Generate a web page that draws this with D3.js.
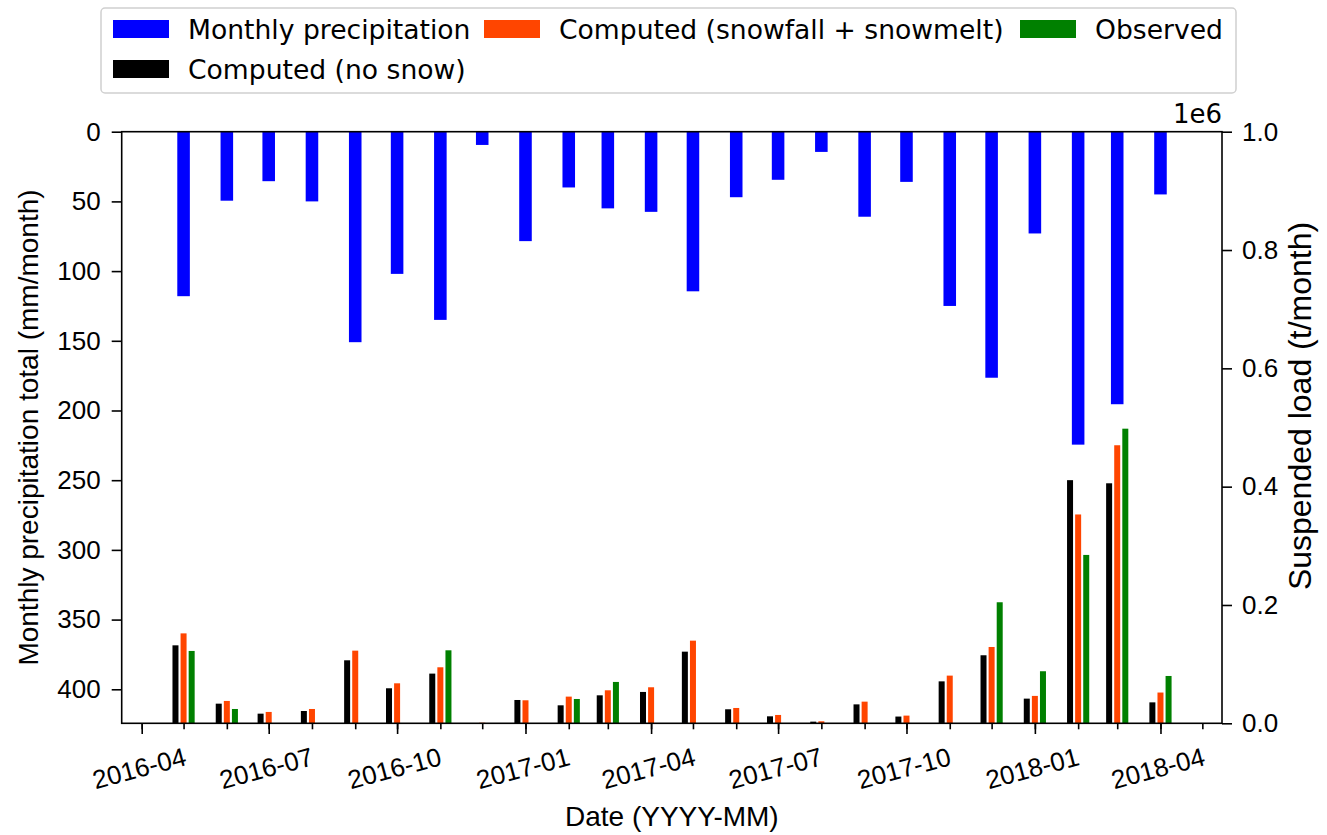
<!DOCTYPE html>
<html>
<head>
<meta charset="utf-8">
<script src="https://cdn.jsdelivr.net/npm/d3@7"></script>
<style>
  body { margin: 0; background: #fff; }
  svg { display: block; }
</style>
</head>
<body>
<svg id="chart" width="1327" height="835"></svg>
<script>
// Monthly records (first day of each month)
const months = ["2016-05","2016-06","2016-07","2016-08","2016-09","2016-10","2016-11","2016-12",
                "2017-01","2017-02","2017-03","2017-04","2017-05","2017-06","2017-07","2017-08",
                "2017-09","2017-10","2017-11","2017-12","2018-01","2018-02","2018-03","2018-04"];

// Monthly precipitation total (mm/month)
const precipitation = [118, 49.5, 35.5, 50, 151, 102, 135, 9.5,
                       78.5, 40, 55, 57.5, 114.5, 47, 34.5, 14.5,
                       61, 36, 125, 176.5, 73, 224.5, 195.5, 45];

// Suspended load (t/month)
const loadNoSnow = [131800, 33200, 16300, 20800, 106500, 59200, 84000, 0,
                    39400, 30400, 47300, 53000, 121100, 23700, 11800, 2800,
                    32000, 11400, 70900, 115000, 41700, 411000, 405700, 35400];
const loadSnow = [152000, 37800, 19200, 24200, 122800, 67600, 94700, 1000,
                  38900, 45100, 55800, 60900, 139700, 25900, 14100, 3400,
                  36600, 13000, 80600, 129000, 46300, 353000, 470000, 52000];
const loadObserved = [122300, 24200, null, null, null, null, 123400, null,
                      null, 41100, 69900, null, null, null, null, null,
                      null, null, null, 204600, 88000, 284600, 498000, 80000];

const precipTicks = [0, 50, 100, 150, 200, 250, 300, 350, 400];
const loadTicks = [0, 200000, 400000, 600000, 800000, 1000000];

const legendEntries = [
  { label: "Monthly precipitation", color: "#0000ff" },
  { label: "Computed (snowfall + snowmelt)", color: "#ff4500" },
  { label: "Observed", color: "#008000" },
  { label: "Computed (no snow)", color: "#000000" }
];

// ---- layout ----
const svg = d3.select("#chart");
const plot = { left: 121.7, right: 1222, top: 131.7, bottom: 723.3 };
const DAY = 864e5;
const tickFont = "'Liberation Sans', Arial, sans-serif";
const legendFont = "'DejaVu Sans', sans-serif";

const dates = months.map(d3.utcParse("%Y-%m"));

const x = d3.scaleUtc()
  .domain([new Date(Date.UTC(2016, 2, 17, 16)), new Date(Date.UTC(2018, 4, 15, 2))])
  .range([plot.left, plot.right]);
const yPrecip = d3.scaleLinear().domain([0, 424.4]).range([plot.top, plot.bottom]);
const yLoad = d3.scaleLinear().domain([0, 1e6]).range([plot.bottom, plot.top]);

const shift = (d, days) => new Date(d.getTime() + days * DAY);

// ---- precipitation bars hanging from the top ----
const precipHalf = 4.5;
svg.append("g").selectAll("rect")
  .data(dates.map((d, i) => ({ d, v: precipitation[i] })))
  .join("rect")
  .attr("x", p => x(shift(p.d, -precipHalf)))
  .attr("width", p => x(shift(p.d, precipHalf)) - x(shift(p.d, -precipHalf)))
  .attr("y", yPrecip(0))
  .attr("height", p => yPrecip(p.v) - yPrecip(0))
  .attr("fill", "#0000ff");

// ---- suspended load bars, grouped around each month ----
const loadSeries = [
  { values: loadNoSnow, color: "#000000", offset: -5.8 },
  { values: loadSnow, color: "#ff4500", offset: 0 },
  { values: loadObserved, color: "#008000", offset: 5.8 }
];
const loadHalf = 2.15;
loadSeries.forEach(s => {
  svg.append("g").selectAll("rect")
    .data(dates.map((d, i) => ({ d, v: s.values[i] })).filter(p => p.v !== null))
    .join("rect")
    .attr("x", p => x(shift(p.d, s.offset - loadHalf)))
    .attr("width", p => x(shift(p.d, s.offset + loadHalf)) - x(shift(p.d, s.offset - loadHalf)))
    .attr("y", p => yLoad(p.v))
    .attr("height", p => yLoad(0) - yLoad(p.v))
    .attr("fill", s.color);
});

// ---- axes ----
function styleAxis(g) {
  g.select(".domain").remove();
  g.selectAll(".tick line").attr("stroke", "#000").attr("stroke-width", 1.6);
  g.selectAll(".tick text").attr("fill", "#000").style("font-family", tickFont).style("font-size", "26px");
}

// minor month ticks
svg.append("g")
  .attr("transform", `translate(0,${plot.bottom})`)
  .call(d3.axisBottom(x).ticks(d3.utcMonth.every(1)).tickSize(6).tickFormat(""))
  .call(styleAxis);

// major quarterly ticks with labels
const xMajor = svg.append("g")
  .attr("transform", `translate(0,${plot.bottom})`)
  .call(d3.axisBottom(x).ticks(d3.utcMonth.every(3)).tickSize(10.7).tickFormat(d3.utcFormat("%Y-%m")))
  .call(styleAxis);
xMajor.selectAll(".tick text")
  .attr("y", 0).attr("dy", null)
  .attr("text-anchor", "middle")
  .attr("dominant-baseline", "central")
  .attr("transform", "translate(-3,45) rotate(-15)");

// left precipitation axis
svg.append("g")
  .attr("transform", `translate(${plot.left},0)`)
  .call(d3.axisLeft(yPrecip).tickValues(precipTicks).tickSize(10).tickPadding(11).tickFormat(d3.format("d")))
  .call(styleAxis);

// right suspended-load axis (scaled by 1e6)
svg.append("g")
  .attr("transform", `translate(${plot.right},0)`)
  .call(d3.axisRight(yLoad).tickValues(loadTicks).tickSize(10).tickPadding(10).tickFormat(v => (v / 1e6).toFixed(1)))
  .call(styleAxis);

svg.append("text")
  .attr("x", plot.right).attr("y", 123)
  .attr("text-anchor", "end")
  .style("font-family", legendFont).style("font-size", "26px")
  .text("1e6");

// frame
svg.append("rect")
  .attr("x", plot.left).attr("y", plot.top)
  .attr("width", plot.right - plot.left).attr("height", plot.bottom - plot.top)
  .attr("fill", "none").attr("stroke", "#000").attr("stroke-width", 1.6);

// axis titles
svg.append("text")
  .attr("transform", `translate(38,${(plot.top + plot.bottom) / 2}) rotate(-90)`)
  .attr("text-anchor", "middle")
  .style("font-family", tickFont).style("font-size", "28px")
  .text("Monthly precipitation total (mm/month)");

svg.append("text")
  .attr("transform", `translate(1311,406) rotate(-90)`)
  .attr("text-anchor", "middle")
  .style("font-family", tickFont).style("font-size", "32px")
  .text("Suspended load (t/month)");

svg.append("text")
  .attr("x", (plot.left + plot.right) / 2).attr("y", 826)
  .attr("text-anchor", "middle")
  .style("font-family", tickFont).style("font-size", "28px")
  .text("Date (YYYY-MM)");

// ---- legend ----
const legend = svg.append("g");
legend.append("rect")
  .attr("x", 101).attr("y", 8).attr("width", 1135).attr("height", 85)
  .attr("rx", 4).attr("ry", 4)
  .attr("fill", "#fff").attr("stroke", "#d0d0d0").attr("stroke-width", 1.5);

const legendSlots = [
  { x: 113, y: 29 }, { x: 484, y: 29 }, { x: 1020, y: 29 }, { x: 113, y: 69 }
];
legendEntries.forEach((e, i) => {
  const s = legendSlots[i];
  legend.append("rect")
    .attr("x", s.x).attr("y", s.y - 9).attr("width", 56).attr("height", 18)
    .attr("fill", e.color);
  legend.append("text")
    .attr("x", s.x + 75).attr("y", s.y).attr("dy", "0.36em")
    .style("font-family", legendFont).style("font-size", "26.6px")
    .attr("fill", "#000")
    .text(e.label);
});
</script>
</body>
</html>
